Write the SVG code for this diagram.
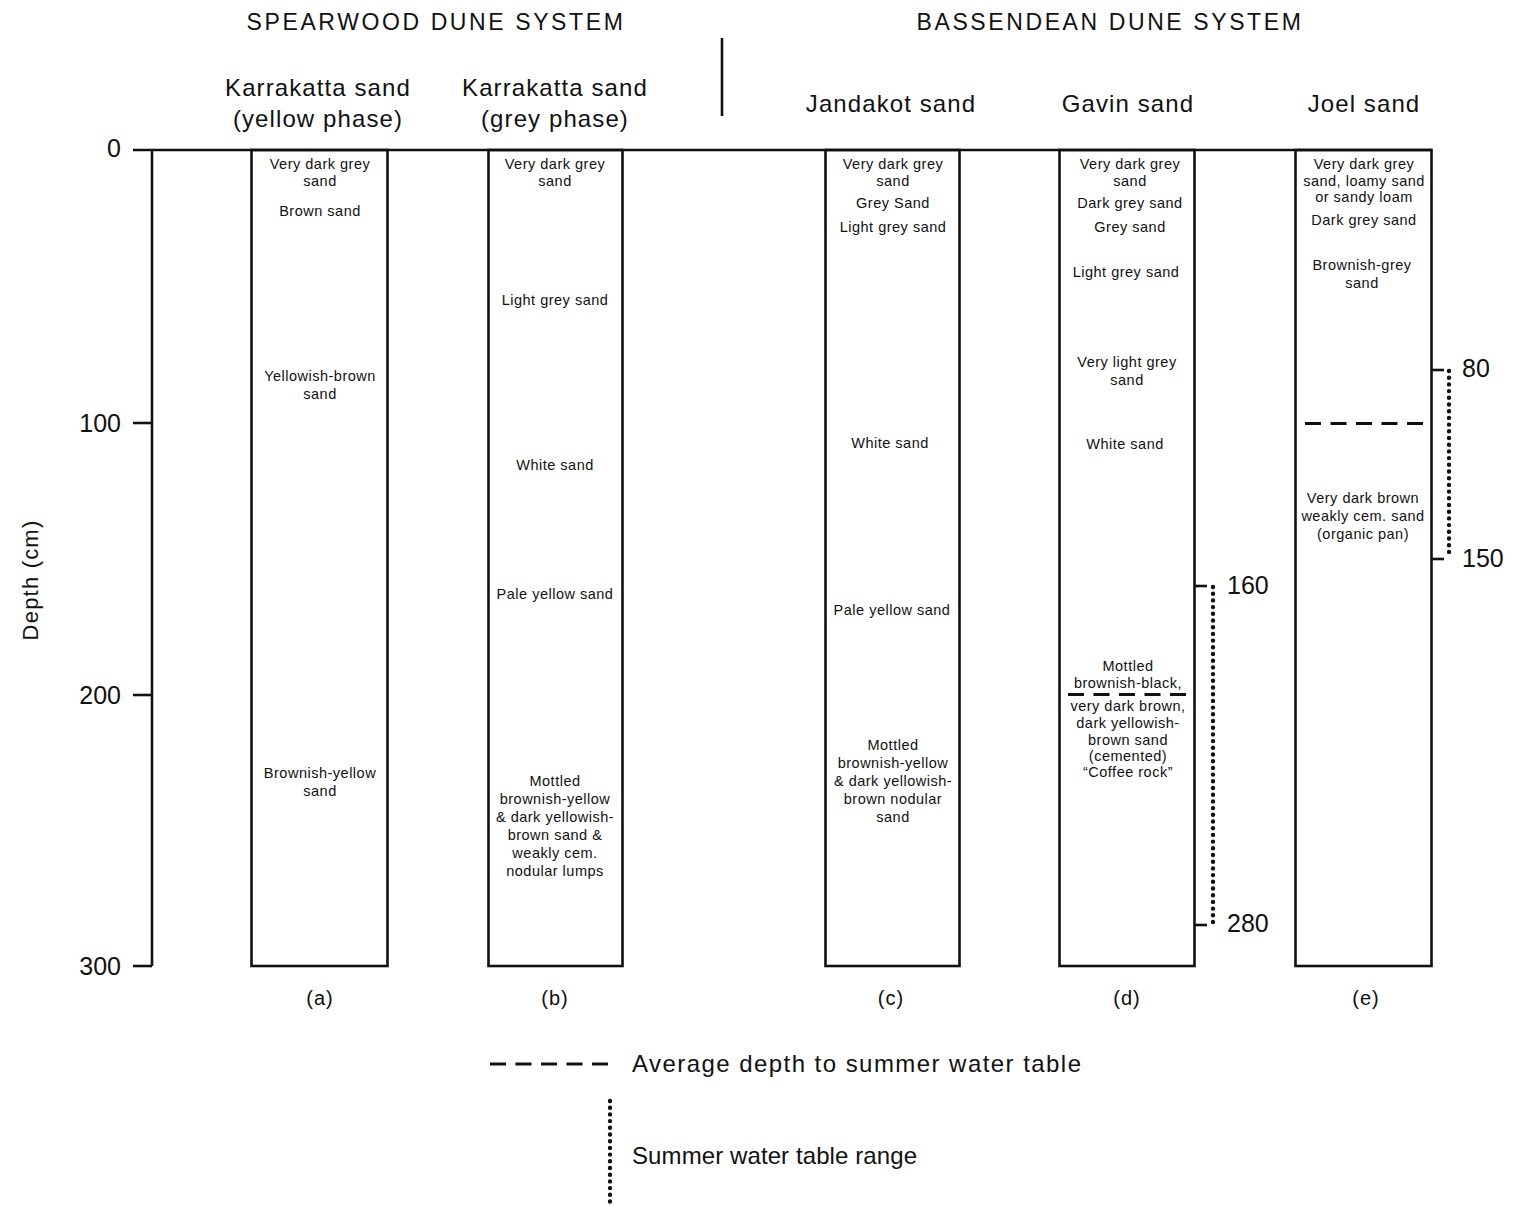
<svg xmlns="http://www.w3.org/2000/svg" width="1513" height="1206" viewBox="0 0 1513 1206">
<style>
text{font-family:"Liberation Sans",Arial,sans-serif;fill:#111}
.hd{font-size:23px;letter-spacing:2.6px;text-anchor:middle}
.ti{font-size:24px;letter-spacing:1.1px;text-anchor:middle}
.in{font-size:14.5px;letter-spacing:0.5px;text-anchor:middle}
.ax{font-size:25px;text-anchor:end}
.rn{font-size:25px}
.lb{font-size:20px;letter-spacing:1px;text-anchor:middle}
.lg{font-size:24px}
.col{fill:none;stroke:#111;stroke-width:2.6}
.ln{stroke:#111;stroke-width:2.6;fill:none}
.dash{stroke:#111;stroke-width:3;stroke-dasharray:16 9.5;fill:none}
.dot{stroke:#111;stroke-width:4.4;stroke-linecap:round;stroke-dasharray:0 6.7;fill:none}
</style>
<rect width="1513" height="1206" fill="#fff"/>

<g id="headers">
<text class="hd" x="436" y="30">SPEARWOOD DUNE SYSTEM</text>
<text class="hd" x="1110" y="30">BASSENDEAN DUNE SYSTEM</text>
<line class="ln" x1="722" y1="38" x2="722" y2="116"/>
</g>

<g id="axis">
<line class="ln" x1="133" y1="150" x2="1432" y2="150"/>
<line class="ln" x1="152" y1="150" x2="152" y2="966"/>
<line class="ln" x1="133" y1="423" x2="152" y2="423"/>
<line class="ln" x1="133" y1="695" x2="152" y2="695"/>
<line class="ln" x1="133" y1="966" x2="152" y2="966"/>
<text class="ax" x="121" y="157">0</text>
<text class="ax" x="121" y="432">100</text>
<text class="ax" x="121" y="704">200</text>
<text class="ax" x="121" y="975">300</text>
<text font-size="22" letter-spacing="1.2" text-anchor="middle" transform="translate(38 580) rotate(-90)">Depth (cm)</text>
</g>

<g id="col-a">
<text class="ti" x="318" y="96">Karrakatta sand</text>
<text class="ti" x="318" y="127">(yellow phase)</text>
<rect class="col" x="251.5" y="150" width="136" height="816"/>
<text class="in" x="320" y="169">Very dark grey</text>
<text class="in" x="320" y="186">sand</text>
<text class="in" x="320" y="216">Brown sand</text>
<text class="in" x="320" y="381">Yellowish-brown</text>
<text class="in" x="320" y="399">sand</text>
<text class="in" x="320" y="778">Brownish-yellow</text>
<text class="in" x="320" y="796">sand</text>
<text class="lb" x="320" y="1005">(a)</text>
</g>

<g id="col-b">
<text class="ti" x="555" y="96">Karrakatta sand</text>
<text class="ti" x="555" y="127">(grey phase)</text>
<rect class="col" x="488.5" y="150" width="134" height="816"/>
<text class="in" x="555" y="169">Very dark grey</text>
<text class="in" x="555" y="186">sand</text>
<text class="in" x="555" y="305">Light grey sand</text>
<text class="in" x="555" y="470">White sand</text>
<text class="in" x="555" y="599">Pale yellow sand</text>
<text class="in" x="555" y="786">Mottled</text>
<text class="in" x="555" y="804">brownish-yellow</text>
<text class="in" x="555" y="822">&amp; dark yellowish-</text>
<text class="in" x="555" y="840">brown sand &amp;</text>
<text class="in" x="555" y="858">weakly cem.</text>
<text class="in" x="555" y="876">nodular lumps</text>
<text class="lb" x="555" y="1005">(b)</text>
</g>

<g id="col-c">
<text class="ti" x="891" y="112">Jandakot sand</text>
<rect class="col" x="825.5" y="150" width="134" height="816"/>
<text class="in" x="893" y="169">Very dark grey</text>
<text class="in" x="893" y="186">sand</text>
<text class="in" x="893" y="208">Grey Sand</text>
<text class="in" x="893" y="232">Light grey sand</text>
<text class="in" x="890" y="448">White sand</text>
<text class="in" x="892" y="615">Pale yellow sand</text>
<text class="in" x="893" y="750">Mottled</text>
<text class="in" x="893" y="768">brownish-yellow</text>
<text class="in" x="893" y="786">&amp; dark yellowish-</text>
<text class="in" x="893" y="804">brown nodular</text>
<text class="in" x="893" y="822">sand</text>
<text class="lb" x="891" y="1005">(c)</text>
</g>

<g id="col-d">
<text class="ti" x="1128" y="112">Gavin sand</text>
<rect class="col" x="1059.5" y="150" width="135" height="816"/>
<text class="in" x="1130" y="169">Very dark grey</text>
<text class="in" x="1130" y="186">sand</text>
<text class="in" x="1130" y="208">Dark grey sand</text>
<text class="in" x="1130" y="232">Grey sand</text>
<text class="in" x="1126" y="277">Light grey sand</text>
<text class="in" x="1127" y="367">Very light grey</text>
<text class="in" x="1127" y="385">sand</text>
<text class="in" x="1125" y="449">White sand</text>
<text class="in" x="1128" y="671">Mottled</text>
<text class="in" x="1128" y="688">brownish-black,</text>
<line class="dash" x1="1068" y1="694.5" x2="1189" y2="694.5"/>
<text class="in" x="1128" y="711">very dark brown,</text>
<text class="in" x="1128" y="728">dark yellowish-</text>
<text class="in" x="1128" y="745">brown sand</text>
<text class="in" x="1128" y="761">(cemented)</text>
<text class="in" x="1128" y="777">“Coffee rock”</text>
<text class="lb" x="1127" y="1005">(d)</text>
</g>

<g id="col-e">
<text class="ti" x="1364" y="112">Joel sand</text>
<rect class="col" x="1295.5" y="150" width="136" height="816"/>
<text class="in" x="1364" y="169">Very dark grey</text>
<text class="in" x="1364" y="186">sand, loamy sand</text>
<text class="in" x="1364" y="202">or sandy loam</text>
<text class="in" x="1364" y="225">Dark grey sand</text>
<text class="in" x="1362" y="270">Brownish-grey</text>
<text class="in" x="1362" y="288">sand</text>
<line class="dash" x1="1305" y1="423.5" x2="1425" y2="423.5"/>
<text class="in" x="1363" y="503">Very dark brown</text>
<text class="in" x="1363" y="521">weakly cem. sand</text>
<text class="in" x="1363" y="539">(organic pan)</text>
<text class="lb" x="1366" y="1005">(e)</text>
</g>

<g id="connectors">
<line class="ln" x1="1195" y1="586" x2="1207" y2="586"/>
<line class="ln" x1="1195" y1="925" x2="1207" y2="925"/>
<line class="dot" x1="1213" y1="587" x2="1213" y2="922"/>
<text class="rn" x="1227" y="594">160</text>
<text class="rn" x="1227" y="932">280</text>
<line class="ln" x1="1432" y1="370" x2="1444" y2="370"/>
<line class="ln" x1="1432" y1="559" x2="1444" y2="559"/>
<line class="dot" x1="1449" y1="371" x2="1449" y2="558"/>
<text class="rn" x="1462" y="377">80</text>
<text class="rn" x="1462" y="567">150</text>
</g>

<g id="legend">
<line class="dash" x1="490" y1="1064" x2="608" y2="1064"/>
<text class="lg" x="632" y="1072" textLength="449" lengthAdjust="spacing">Average depth to summer water table</text>
<line class="dot" x1="610" y1="1101" x2="610" y2="1204"/>
<text class="lg" x="632" y="1164" textLength="285" lengthAdjust="spacing">Summer water table range</text>
</g>
</svg>
